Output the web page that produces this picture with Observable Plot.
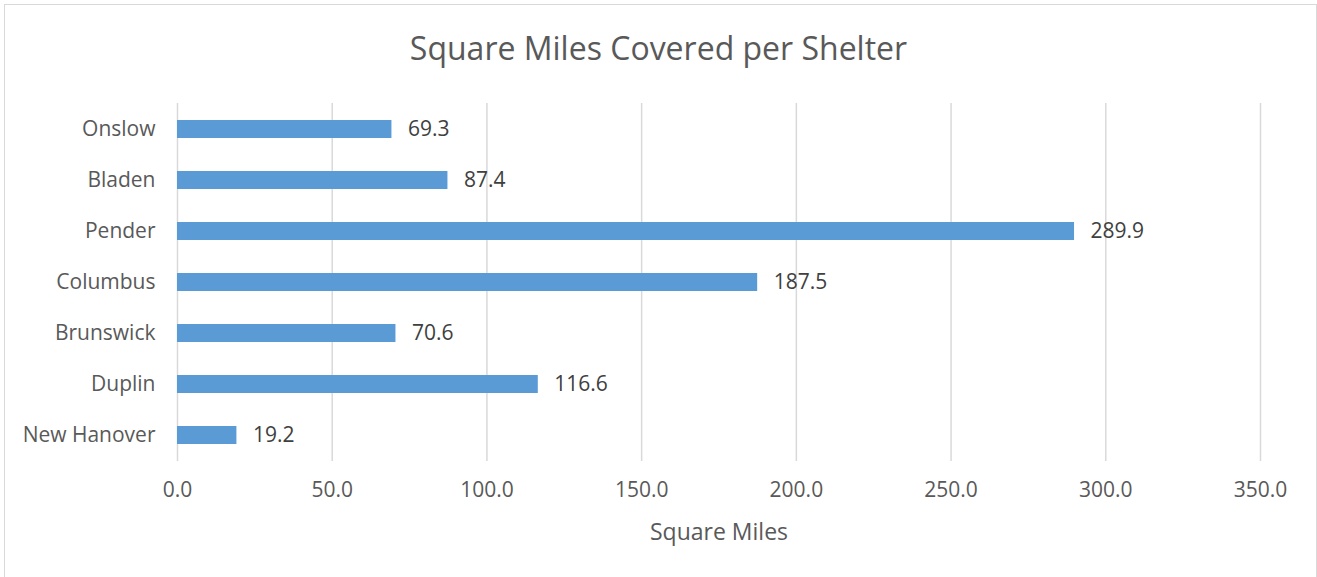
<!DOCTYPE html>
<html>
<head>
<meta charset="utf-8">
<script src="https://cdn.jsdelivr.net/npm/d3@7"></script>
<script src="https://cdn.jsdelivr.net/npm/@observablehq/plot@0.6"></script>
<style>
  html, body { margin: 0; padding: 0; background: #fff; }
  #wrap { position: relative; width: 1317px; height: 577px; overflow: hidden; font-family: "Open Sans", sans-serif; }
  #border { position: absolute; left: 4px; top: 4px; width: 1313px; height: 574px; border: 1.5px solid #d9d9d9; box-sizing: border-box; }
  #title { position: absolute; left: 0; width: 1317px; top: 26px; text-align: center; font-size: 32px; color: #595959; line-height: 44px; }
  #chart { position: absolute; left: 0; top: 0; }
</style>
</head>
<body>
<div id="wrap">
  <div id="border"></div>
  <div id="chart"></div>
  <div id="title">Square Miles Covered per Shelter</div>
</div>
<script>
const counties = ["Onslow", "Bladen", "Pender", "Columbus", "Brunswick", "Duplin", "New Hanover"];
const squareMiles = [69.3, 87.4, 289.9, 187.5, 70.6, 116.6, 19.2];
const xTicks = [0, 50, 100, 150, 200, 250, 300, 350];
const xLabel = "Square Miles";

const data = counties.map((c, i) => ({county: c, value: squareMiles[i]}));

const chart = Plot.plot({
  width: 1317,
  height: 577,
  marginTop: 103,
  marginBottom: 116,
  marginLeft: 177,
  marginRight: 57,
  style: {fontFamily: "Open Sans, sans-serif", fontSize: "21px", color: "#595959", background: "transparent"},
  x: {domain: [0, 350], ticks: xTicks, tickFormat: d => d.toFixed(1)},
  y: {domain: counties, paddingInner: 0.64, paddingOuter: 0.32},
  marks: [
    Plot.gridX(xTicks, {stroke: "#d9d9d9", strokeOpacity: 1, strokeWidth: 1.5}),
    Plot.barX(data, {x: "value", y: "county", fill: "#5B9BD5"}),
    Plot.text(data, {x: "value", y: "county", text: d => d.value.toFixed(1), textAnchor: "start", dx: 16, fill: "#404040", fontSize: 21}),
    Plot.axisX({ticks: xTicks, tickSize: 0, tickPadding: 21, tickFormat: d => d.toFixed(1), label: null, fontSize: 21}),
    Plot.axisY({tickSize: 0, tickPadding: 22, label: null, fontSize: 21}),
    Plot.text([xLabel], {frameAnchor: "bottom", dy: 71, lineAnchor: "middle", fontSize: 23, fill: "#595959"})
  ]
});
document.getElementById("chart").appendChild(chart);
</script>
</body>
</html>
